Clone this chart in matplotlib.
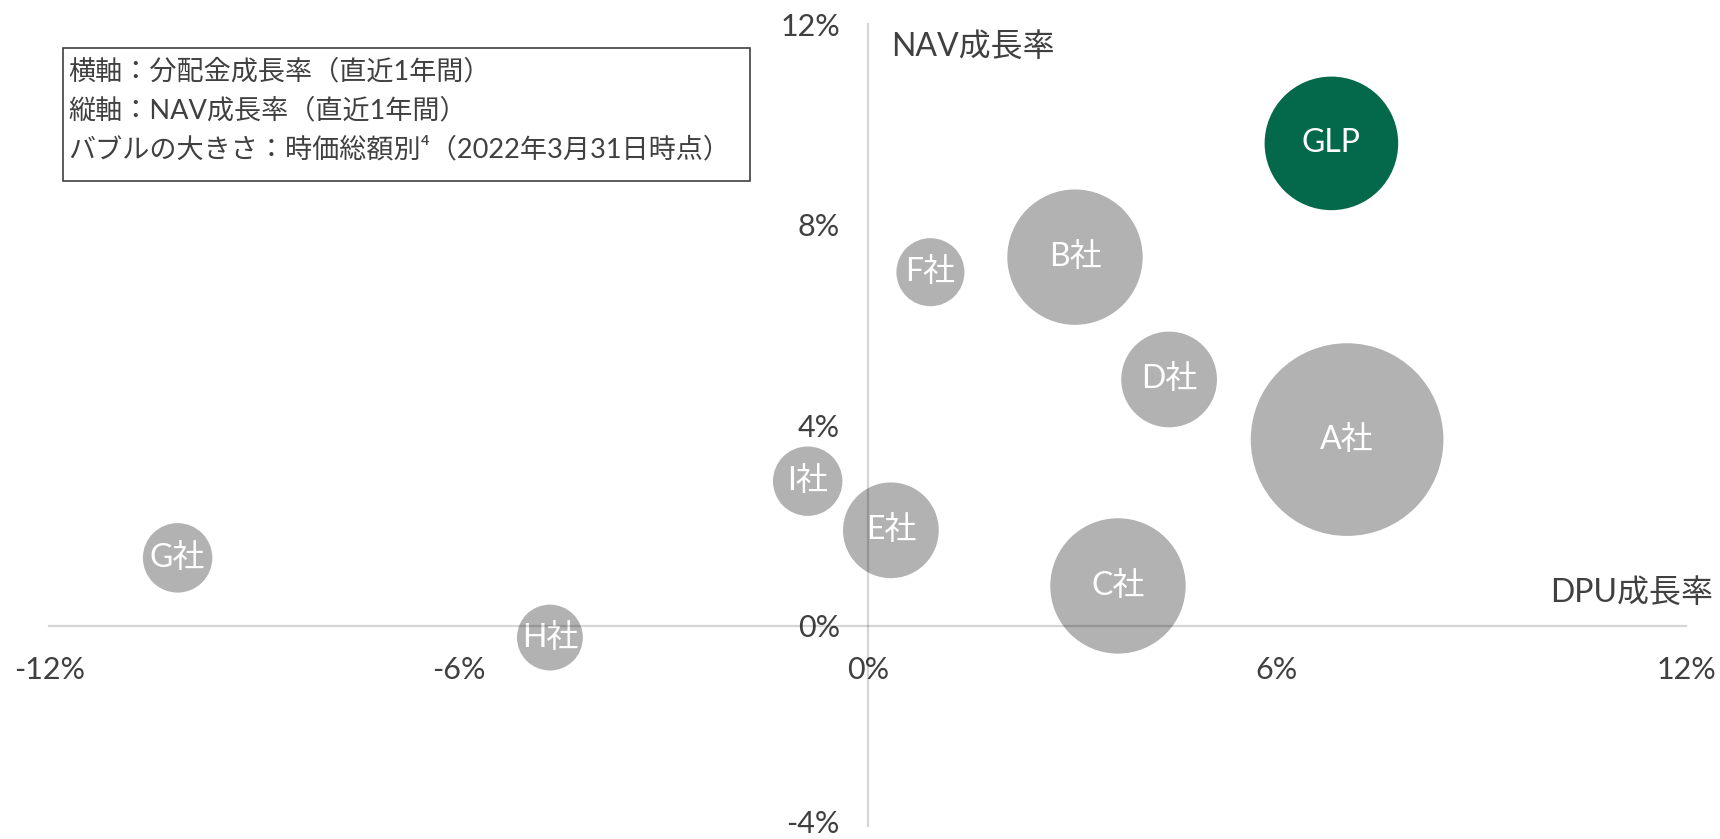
import numpy as np
import matplotlib
matplotlib.use('Agg')
import matplotlib.pyplot as plt
from matplotlib.patches import Rectangle
from matplotlib.ticker import FuncFormatter
from matplotlib.transforms import offset_copy

plt.rcParams['font.family'] = ['Lato', 'Noto Sans CJK JP', 'DejaVu Sans']

# data: DPU growth (%), NAV growth (%), market cap (relative, bubble area)
names = ['GLP', 'A社', 'B社', 'C社', 'D社', 'E社', 'F社', 'G社', 'H社', 'I社']
dpu_growth = [6.80, 7.03, 3.04, 3.67, 4.42, 0.34, 0.92, -10.12, -4.66, -0.88]
nav_growth = [9.62, 3.71, 7.35, 0.79, 4.91, 1.90, 7.05, 1.35, -0.24, 2.88]
market_cap = [37, 77, 38, 38, 19, 19, 9.6, 10, 9, 10]
colors = ['#03694a'] + ['#b2b2b2'] * 9

x_ticks = [-12, -6, 0, 6, 12]
y_ticks = [-4, 0, 4, 8, 12]

legend_lines = ['横軸：分配金成長率（直近1年間）',
                '縦軸：NAV成長率（直近1年間）',
                'バブルの大きさ：時価総額別⁴（2022年3月31日時点）']

txt_col = '#404040'

fig = plt.figure(figsize=(17.2, 8.39), dpi=100)
ax = fig.add_axes([49.4/1720, 1-826/839, (1686-49.4)/1720, (826-24.1)/839])

ax.scatter(dpu_growth, nav_growth, s=np.array(market_cap)*250, c=colors,
           linewidths=0, zorder=1)
for n, x, y in zip(names, dpu_growth, nav_growth):
    ax.text(x, y, n, color='white', fontsize=23, ha='center', va='center', zorder=2)

ax.set_xlim(-12, 12)
ax.set_ylim(-4, 12)
ax.set_xticks(x_ticks)
ax.set_yticks(y_ticks)
ax.xaxis.set_major_formatter(FuncFormatter(lambda v, p: '%d%%' % v))
ax.yaxis.set_major_formatter(FuncFormatter(lambda v, p: '%d%%' % v))

for s in ['top', 'right']:
    ax.spines[s].set_visible(False)
ax.spines['left'].set_position(('data', 0))
ax.spines['bottom'].set_position(('data', 0))
for s in ['left', 'bottom']:
    ax.spines[s].set_color((0, 0, 0, 0.16))
    ax.spines[s].set_linewidth(1.6)
    ax.spines[s].set_zorder(3)

ax.tick_params(axis='x', length=0, pad=22, labelsize=22, labelcolor=txt_col)
ax.tick_params(axis='y', length=0, pad=20, labelsize=22, labelcolor=txt_col)
ax.patch.set_visible(False)

# axis titles
fig.text(891/1720, 1-47/839, 'NAV成長率', fontsize=23, color=txt_col, ha='left', va='center')
fig.text(1713/1720, 1-593/839, 'DPU成長率', fontsize=23, color=txt_col, ha='right', va='center')

# explanation box
fig.patches.append(Rectangle((62.5/1720, 1-181/839), (750-62.5)/1720, (181-48)/839,
                             transform=fig.transFigure, fill=False,
                             edgecolor='#404040', linewidth=1.2))
for i, line in enumerate(legend_lines):
    fig.text(68/1720, 1-(72+39*i)/839, line, fontsize=19.5, color=txt_col,
             ha='left', va='center')

# keep the bottom label inside the picture
fig.canvas.draw()
lbl = ax.yaxis.get_major_ticks()[0].label1
lbl.set_transform(offset_copy(lbl.get_transform(), fig=fig, y=3, units='points'))

fig.savefig('out.png', dpi=100)
